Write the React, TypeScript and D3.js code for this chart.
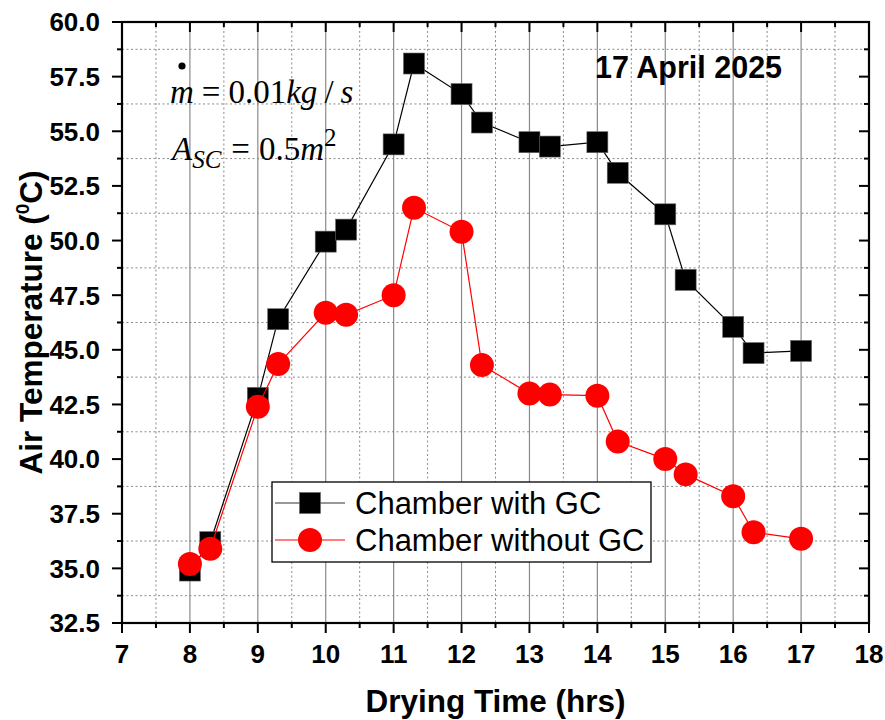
import React from "react";
import * as d3 from "d3";

const hours = [8, 8.3, 9, 9.3, 10, 10.3, 11, 11.3, 12, 12.3, 13, 13.3, 14, 14.3, 15, 15.3, 16, 16.3, 17];
const withGC = [34.9, 36.2, 42.8, 46.4, 49.95, 50.5, 54.4, 58.1, 56.7, 55.4, 54.5, 54.3, 54.5, 53.1, 51.2, 48.2, 46.05, 44.85, 44.95];
const withoutGC = [35.2, 35.9, 42.4, 44.35, 46.7, 46.6, 47.5, 51.5, 50.4, 44.3, 43.0, 42.95, 42.9, 40.8, 40.0, 39.3, 38.3, 36.65, 36.35];
const xTicks = [7, 8, 9, 10, 11, 12, 13, 14, 15, 16, 17, 18];
const yTicks = [32.5, 35, 37.5, 40, 42.5, 45, 47.5, 50, 52.5, 55, 57.5, 60];
const legendLabels = ["Chamber with GC", "Chamber without GC"];

const W = 885;
const H = 720;
const left = 122;
const right = 869;
const top = 22;
const bottom = 623;
const sans = "'Liberation Sans', Arial, Helvetica, sans-serif";
const serif = "'Liberation Serif', 'Times New Roman', serif";

export default function App() {
  const x = d3.scaleLinear().domain([7, 18]).range([left, right]);
  const y = d3.scaleLinear().domain([32.5, 60]).range([bottom, top]);

  const xMinor = xTicks.slice(0, -1).map((t) => t + 0.5);
  const yMinor = yTicks.slice(0, -1).map((t) => t + 1.25);

  const line = d3
    .line<number>()
    .x((d, i) => x(hours[i]))
    .y((d) => y(d));

  const sq = 21;

  return (
    <svg width={W} height={H} style={{ position: "absolute", left: 0, top: 0 }}>
      <rect width={W} height={H} fill="white" />

      {/* grid */}
      {xTicks.slice(1, -1).map((t) => (
        <line key={"gx" + t} x1={x(t)} x2={x(t)} y1={top} y2={bottom} stroke="#8a8a8a" strokeWidth={1.2} />
      ))}
      {xMinor.map((t) => (
        <line key={"gxm" + t} x1={x(t)} x2={x(t)} y1={top} y2={bottom} stroke="#8a8a8a" strokeWidth={1} strokeDasharray="2,2.5" />
      ))}
      {yMinor.map((t) => (
        <line key={"gym" + t} x1={left} x2={right} y1={y(t)} y2={y(t)} stroke="#8a8a8a" strokeWidth={1} strokeDasharray="2,2.5" />
      ))}

      {/* series */}
      <path d={line(withGC) || ""} fill="none" stroke="black" strokeWidth={1.2} />
      {withGC.map((v, i) => (
        <rect key={"s" + i} x={x(hours[i]) - sq / 2} y={y(v) - sq / 2} width={sq} height={sq} fill="black" stroke="#666" strokeWidth={0.6} />
      ))}
      <path d={line(withoutGC) || ""} fill="none" stroke="red" strokeWidth={1.2} />
      {withoutGC.map((v, i) => (
        <circle key={"c" + i} cx={x(hours[i])} cy={y(v)} r={12} fill="red" />
      ))}

      {/* frame */}
      <rect x={left} y={top} width={right - left} height={bottom - top} fill="none" stroke="black" strokeWidth={2.2} />

      {/* ticks */}
      {xTicks.map((t) => (
        <g key={"tx" + t}>
          <line x1={x(t)} x2={x(t)} y1={bottom} y2={bottom + 10} stroke="black" strokeWidth={2} />
          <line x1={x(t)} x2={x(t)} y1={top} y2={top + 10} stroke="black" strokeWidth={2} />
          <text x={x(t)} y={663} textAnchor="middle" fontFamily={sans} fontWeight="bold" fontSize={26}>
            {t}
          </text>
        </g>
      ))}
      {xMinor.map((t) => (
        <g key={"txm" + t}>
          <line x1={x(t)} x2={x(t)} y1={bottom} y2={bottom + 5} stroke="black" strokeWidth={2} />
          <line x1={x(t)} x2={x(t)} y1={top} y2={top + 5} stroke="black" strokeWidth={2} />
        </g>
      ))}
      {yTicks.map((t) => (
        <g key={"ty" + t}>
          <line x1={left - 10} x2={left} y1={y(t)} y2={y(t)} stroke="black" strokeWidth={2} />
          <line x1={right - 10} x2={right} y1={y(t)} y2={y(t)} stroke="black" strokeWidth={2} />
          <text x={100} y={y(t)} dy="0.36em" textAnchor="end" fontFamily={sans} fontWeight="bold" fontSize={26}>
            {t.toFixed(1)}
          </text>
        </g>
      ))}
      {yMinor.map((t) => (
        <g key={"tym" + t}>
          <line x1={left - 5} x2={left} y1={y(t)} y2={y(t)} stroke="black" strokeWidth={2} />
          <line x1={right - 5} x2={right} y1={y(t)} y2={y(t)} stroke="black" strokeWidth={2} />
        </g>
      ))}

      {/* axis titles */}
      <text x={(left + right) / 2} y={712} textAnchor="middle" fontFamily={sans} fontWeight="bold" fontSize={31.5}>
        Drying Time (hrs)
      </text>
      <text
        transform={`translate(42, ${(top + bottom) / 2}) rotate(-90)`}
        textAnchor="middle"
        fontFamily={sans}
        fontWeight="bold"
        fontSize={31.5}
      >
        Air Temperature (
        <tspan fontSize={19} dy={-13}>0</tspan>
        <tspan dy={13}>C)</tspan>
      </text>

      {/* annotations */}
      <text x={595} y={78} fontFamily={sans} fontWeight="bold" fontSize={30.5}>
        17 April 2025
      </text>
      <circle cx={182} cy={66} r={3.6} fill="black" />
      <text x={170} y={103} fontFamily={serif} fontSize={33}>
        <tspan fontStyle="italic">m</tspan>
        <tspan dx={8}>=</tspan>
        <tspan dx={8}>0.01</tspan>
        <tspan fontStyle="italic">kg</tspan>
        <tspan dx={7}>/</tspan>
        <tspan dx={7} fontStyle="italic">s</tspan>
      </text>
      <text x={172} y={160} fontFamily={serif} fontSize={33}>
        <tspan fontStyle="italic">A</tspan>
        <tspan fontStyle="italic" fontSize={25} dy={8}>SC</tspan>
        <tspan dx={10} dy={-8}>=</tspan>
        <tspan dx={9}>0.5</tspan>
        <tspan fontStyle="italic">m</tspan>
        <tspan fontSize={25} dy={-14}>2</tspan>
      </text>

      {/* legend */}
      <rect x={272} y={482} width={379} height={80} fill="white" stroke="black" strokeWidth={1.3} />
      {legendLabels.map((lab, i) => {
        const ly = 503 + i * 37;
        return (
          <g key={lab}>
            <line x1={275} x2={345} y1={ly} y2={ly} stroke={i === 0 ? "#333" : "red"} strokeWidth={1.2} />
            {i === 0 ? (
              <rect x={310 - sq / 2} y={ly - sq / 2} width={sq} height={sq} fill="black" stroke="#666" strokeWidth={0.6} />
            ) : (
              <circle cx={310} cy={ly} r={12} fill="red" />
            )}
            <text x={355} y={ly + 11} fontFamily={sans} fontSize={31}>
              {lab}
            </text>
          </g>
        );
      })}
    </svg>
  );
}
